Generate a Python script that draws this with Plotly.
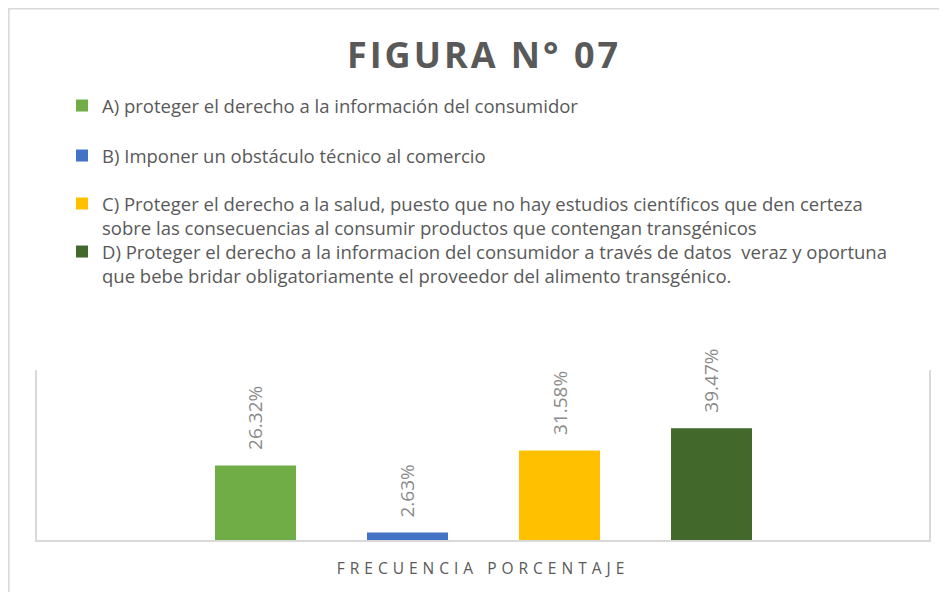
import plotly.graph_objects as go

# ---- data ----
categories = ["A", "B", "C", "D"]
series_names = [
    "A) proteger el derecho a la información del consumidor",
    "B) Imponer un obstáculo técnico al comercio",
    "C) Proteger el derecho a la salud, puesto que no hay estudios científicos que den certeza<br>sobre las consecuencias al consumir productos que contengan transgénicos",
    "D) Proteger el derecho a la informacion del consumidor a través de datos  veraz y oportuna<br>que bebe bridar obligatoriamente el proveedor del alimento transgénico.",
]
values = [0.2632, 0.0263, 0.3158, 0.3947]
colors = ["#70AD47", "#4472C4", "#FFC000", "#43682B"]
title_text = "FIGURA N° 07"
axis_title = "FRECUENCIA PORCENTAJE"

# page geometry (browser body has an 8px margin)
OFF = 8
W, H = 947, 592
PL, PR, PT, PB = 37, 929, 370, 540          # plot area in page pixels
L, R, T, B = PL - OFF, W + OFF - PR, PT - OFF, H + OFF - PB
plot_w, plot_h = PR - PL, PB - PT
TEXT = "#595959"
FONT = "Open Sans"


def cx(p):
    return (p - OFF) / W


def cy(p):
    return 1 - (p - OFF) / H


fig = go.Figure()
legend_ids = ["legend", "legend2", "legend3", "legend4"]
for cat, name, val, col, lg in zip(categories, series_names, values, colors, legend_ids):
    fig.add_trace(go.Bar(
        x=[cat], y=[val], name=name, marker=dict(color=col, line=dict(width=0)),
        legend=lg, hoverinfo="skip",
    ))
    fig.add_annotation(
        x=cat, y=val, xref="x", yref="y", text=f"{val:.2%}", textangle=-90,
        showarrow=False, yanchor="bottom", xanchor="center", yshift=13,
        font=dict(family=FONT, size=19, color="#8a8a8a"),
    )

# first-line text centre (page px) of each legend entry
legend_centres = [104, 154, 202, 250]
layout_legends = {}
for lg, c in zip(legend_ids, legend_centres):
    layout_legends[lg] = dict(
        x=cx(62), y=cy(c - 17), xref="container", yref="container",
        xanchor="left", yanchor="top", valign="top",
        bgcolor="rgba(0,0,0,0)", borderwidth=0,
        font=dict(family=FONT, size=18.5, color=TEXT),
        itemclick=False, itemdoubleclick=False,
    )

px_per_cat = 152.0
first_center_px = 255.5
x0 = -(first_center_px - PL) / px_per_cat
x1 = x0 + plot_w / px_per_cat

fig.update_layout(
    width=W, height=H,
    margin=dict(l=L, r=R, t=T, b=B, autoexpand=False),
    paper_bgcolor="white", plot_bgcolor="white",
    barmode="overlay", bargap=1 - 81 / 152,
    showlegend=True,
    title=dict(
        text=f'<span style="letter-spacing:3px">{title_text}</span>',
        x=cx(484), xanchor="center", xref="container",
        y=cy(55), yanchor="middle", yref="container",
        font=dict(family=FONT, size=36, color=TEXT, weight="bold"),
    ),
    xaxis=dict(
        type="category", categoryorder="array", categoryarray=categories,
        range=[x0, x1], showticklabels=False, ticks="", showgrid=False,
        zeroline=False, showline=True, linecolor="#d9d9d9", linewidth=2,
        title=dict(text=f'<span style="letter-spacing:5px">{axis_title}</span>',
                   font=dict(family=FONT, size=15.5, color=TEXT), standoff=22),
        fixedrange=True,
    ),
    yaxis=dict(
        range=[0, 0.6], showticklabels=False, ticks="", showgrid=False,
        zeroline=False, showline=True, mirror=True, linecolor="#d9d9d9",
        linewidth=2, fixedrange=True,
    ),
    shapes=[dict(
        type="rect", xref="paper", yref="paper", layer="below",
        x0=(8.8 - PL) / plot_w, x1=(W + 30 - PL) / plot_w,
        y0=(PB - (H + 30)) / plot_h, y1=(PB - 8.8) / plot_h,
        line=dict(color="#d9d9d9", width=1.6), fillcolor="rgba(0,0,0,0)",
    )],
    **layout_legends,
)

fig.write_html("out.html")
